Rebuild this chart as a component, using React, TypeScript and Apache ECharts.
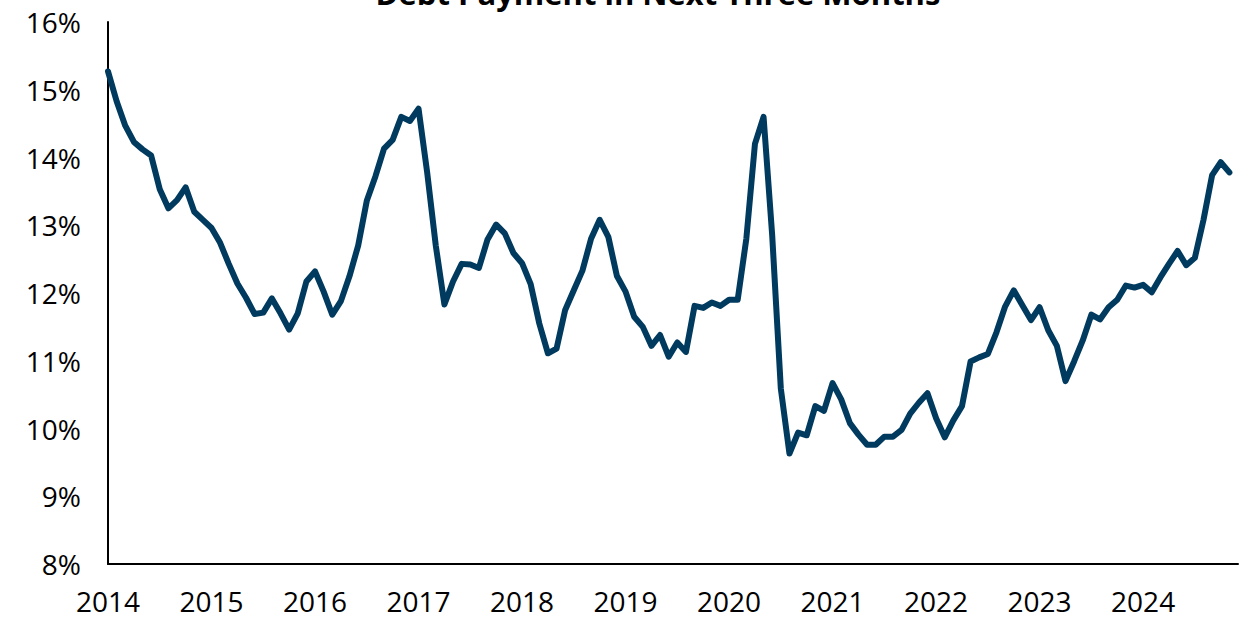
import React, { useEffect, useRef } from "react";
import * as echarts from "echarts";

const TITLE = "Debt Payment in Next Three Months";
const START_YEAR = 2014;
const YEAR_LABELS = ["2014", "2015", "2016", "2017", "2018", "2019", "2020", "2021", "2022", "2023", "2024"];
const Y_TICKS = ["8%", "9%", "10%", "11%", "12%", "13%", "14%", "15%", "16%"];

// Monthly share (%), Jan 2014 .. Nov 2024
const debtPaymentShare = [
  15.27, 14.83, 14.47, 14.23, 14.12, 14.03, 13.53, 13.25, 13.37, 13.56, 13.2, 13.08,
  12.96, 12.74, 12.43, 12.14, 11.93, 11.69, 11.71, 11.92, 11.7, 11.46, 11.7, 12.17,
  12.32, 12.02, 11.68, 11.88, 12.25, 12.7, 13.36, 13.72, 14.13, 14.26, 14.6, 14.54,
  14.72, 13.78, 12.7, 11.83, 12.17, 12.43, 12.42, 12.37, 12.79, 13.01, 12.88, 12.59,
  12.44, 12.13, 11.55, 11.11, 11.18, 11.75, 12.04, 12.33, 12.8, 13.08, 12.83, 12.25,
  12.02, 11.65, 11.5, 11.22, 11.38, 11.06, 11.27, 11.13, 11.81, 11.78, 11.86, 11.81,
  11.9, 11.9, 12.8, 14.2, 14.6, 12.85, 10.59, 9.63, 9.94, 9.9, 10.33, 10.26,
  10.67, 10.43, 10.08, 9.91, 9.76, 9.76, 9.88, 9.88, 9.98, 10.22, 10.38, 10.52,
  10.15, 9.87, 10.12, 10.33, 10.99, 11.05, 11.1, 11.42, 11.8, 12.04, 11.82, 11.6,
  11.79, 11.45, 11.22, 10.7, 10.99, 11.3, 11.68, 11.61, 11.79, 11.9, 12.11, 12.08,
  12.12, 12.01, 12.23, 12.43, 12.62, 12.41, 12.52, 13.08, 13.74, 13.93, 13.78,
];

const FONT = "'Open Sans', 'Noto Sans', sans-serif";

export default function App() {
  const ref = useRef<HTMLDivElement>(null);

  useEffect(() => {
    document.body.style.margin = "0";
    if (!ref.current) return;
    const chart = echarts.init(ref.current, null, { renderer: "svg" });
    const seriesData = debtPaymentShare.map((v, i) => [i, v]);
    const monthsMax = YEAR_LABELS.length * 12 - 1;
    chart.setOption({
      animation: false,
      graphic: [
        {
          type: "text",
          x: 658,
          y: 8,
          style: {
            text: TITLE,
            font: `bold 31px ${FONT}`,
            fill: "#000",
            textAlign: "center",
            textVerticalAlign: "bottom",
          },
        },
      ],
      grid: { left: 108, right: 13, top: 22, bottom: 55, containLabel: false },
      xAxis: {
        type: "value",
        min: 0,
        max: monthsMax,
        interval: 12,
        splitLine: { show: false },
        axisTick: { show: false },
        axisLine: { show: true, lineStyle: { color: "#000", width: 2 } },
        axisLabel: {
          color: "#000",
          fontSize: 28,
          fontFamily: FONT,
          margin: 23,
          formatter: (v: number) => {
            const idx = Math.round(v) / 12;
            if (Math.round(v) % 12 !== 0) return "";
            return YEAR_LABELS[idx] ?? String(START_YEAR + idx);
          },
        },
      },
      yAxis: {
        type: "value",
        min: 8,
        max: 16,
        interval: 1,
        splitLine: { show: false },
        axisTick: { show: false },
        axisLine: { show: true, lineStyle: { color: "#000", width: 2 } },
        axisLabel: {
          color: "#000",
          fontSize: 28,
          fontFamily: FONT,
          margin: 27,
          formatter: (v: number) => Y_TICKS[Math.round(v) - 8] ?? `${v}%`,
        },
      },
      series: [
        {
          type: "line",
          data: seriesData,
          showSymbol: false,
          symbol: "none",
          lineStyle: { color: "#003a5e", width: 6, cap: "round", join: "round" },
        },
      ],
    });
    return () => chart.dispose();
  }, []);

  return <div ref={ref} style={{ width: 1251, height: 619 }} />;
}
